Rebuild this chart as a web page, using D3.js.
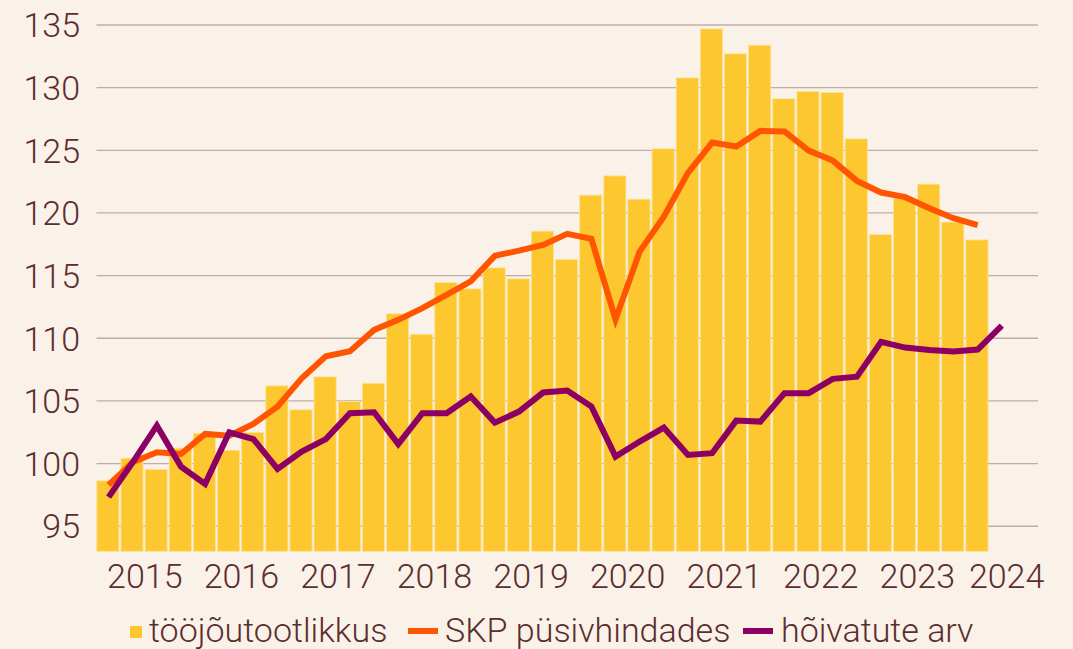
<!DOCTYPE html>
<html><head><meta charset="utf-8">
<script src="https://cdn.jsdelivr.net/npm/d3@7"></script>
<style>
html,body{margin:0;padding:0;background:#faf1e9;}
svg{display:block;font-family:Roboto,"Noto Sans",sans-serif;}
</style></head>
<body>
<svg id="c" width="1073" height="649"></svg>
<script>
const quarters = d3.range(39); // 2015Q1 .. 2024Q3 slots
const productivity = [98.62,100.43,99.52,101.23,102.39,101.07,102.47,106.2,104.29,106.92,104.95,106.41,111.95,110.32,114.45,113.94,115.62,114.74,118.55,116.28,121.42,122.96,121.1,125.12,130.78,134.69,132.7,133.39,129.11,129.69,129.61,125.91,118.28,121.13,122.3,119.27,117.85];
const gdp = [98.3,100.1,100.91,100.77,102.37,102.23,103.17,104.55,106.81,108.57,108.97,110.67,111.47,112.4,113.46,114.55,116.58,117.0,117.45,118.33,117.93,111.5,116.92,119.71,123.2,125.62,125.3,126.55,126.5,124.98,124.18,122.56,121.63,121.26,120.38,119.58,119.03];
const employment = [97.32,100.1,103.03,99.76,98.38,102.5,101.95,99.58,100.96,101.95,104.02,104.1,101.55,104.02,104.02,105.35,103.27,104.15,105.67,105.83,104.55,100.56,101.76,102.87,100.69,100.83,103.43,103.35,105.62,105.62,106.76,106.94,109.71,109.26,109.07,108.94,109.1,111.01];
const yTicks = [95,100,105,110,115,120,125,130,135];
const yearLabels = ["2015","2016","2017","2018","2019","2020","2021","2022","2023","2024"];
const yearPos = [2,6,10,14,18,22,26,30,34,37.7]; // in quarter units
const seriesNames = ["tööjõutootlikkus","SKP püsivhindades","hõivatute arv"];

const colors = {bar:"#fdc82f", gdp:"#ff5500", emp:"#8c0064", text:"#5a2e2e", grid:"#bfaea7"};
const svg = d3.select("#c");
const pLeft = 96.5, pRight = 1038, pTop = 25, pBottom = 551.3;
const fs = 34;

const step = (pRight-pLeft)/quarters.length;
const xq = d3.scaleLinear().domain([0, quarters.length]).range([pLeft, pRight]);
const xc = i => xq(i + 0.5);
const y = d3.scaleLinear().domain([93,135]).range([pBottom, pTop]);

// grid
svg.append("g").selectAll("line").data(yTicks).join("line")
  .attr("x1", pLeft).attr("x2", pRight)
  .attr("y1", d=>y(d)).attr("y2", d=>y(d))
  .attr("stroke", colors.grid).attr("stroke-width", 1.3);

// y labels
svg.append("g").selectAll("text").data(yTicks).join("text")
  .attr("x", 80).attr("y", d=>y(d)).attr("dy","0.36em")
  .attr("text-anchor","end").attr("font-size",fs).attr("font-weight",300)
  .attr("fill", colors.text).text(d=>d);

// bars
svg.append("g").selectAll("rect").data(productivity).join("rect")
  .attr("x", (d,i)=>xq(i)+0.3).attr("width", step-2)
  .attr("y", d=>y(d)).attr("height", d=>y(93)-y(d))
  .attr("fill", colors.bar).attr("stroke","#fde29a").attr("stroke-width",0.8);

// lines
const line = d3.line().x((d,i)=>xc(i)).y(d=>y(d));
svg.append("path").datum(gdp).attr("d", line).attr("fill","none")
  .attr("stroke", colors.gdp).attr("stroke-width", 6).attr("stroke-linejoin","miter");
svg.append("path").datum(employment).attr("d", line).attr("fill","none")
  .attr("stroke", colors.emp).attr("stroke-width", 6).attr("stroke-linejoin","miter");

// x labels
svg.append("g").selectAll("text").data(yearLabels).join("text")
  .attr("x", (d,i)=>xq(yearPos[i])).attr("y", 588)
  .attr("text-anchor","middle").attr("font-size",fs).attr("font-weight",300)
  .attr("fill", colors.text).text(d=>d);

// legend
const lg = svg.append("g");
lg.append("rect").attr("x",130).attr("y",626).attr("width",12).attr("height",12).attr("fill",colors.bar);
lg.append("text").attr("x",149).attr("y",642).attr("font-size",fs).attr("font-weight",300).attr("fill",colors.text).text(seriesNames[0]);
lg.append("line").attr("x1",408).attr("x2",438).attr("y1",631).attr("y2",631).attr("stroke",colors.gdp).attr("stroke-width",6);
lg.append("text").attr("x",445).attr("y",642).attr("font-size",fs).attr("font-weight",300).attr("fill",colors.text).text(seriesNames[1]);
lg.append("line").attr("x1",743).attr("x2",773).attr("y1",631).attr("y2",631).attr("stroke",colors.emp).attr("stroke-width",6);
lg.append("text").attr("x",781).attr("y",642).attr("font-size",fs).attr("font-weight",300).attr("fill",colors.text).text(seriesNames[2]);
</script>
</body></html>
